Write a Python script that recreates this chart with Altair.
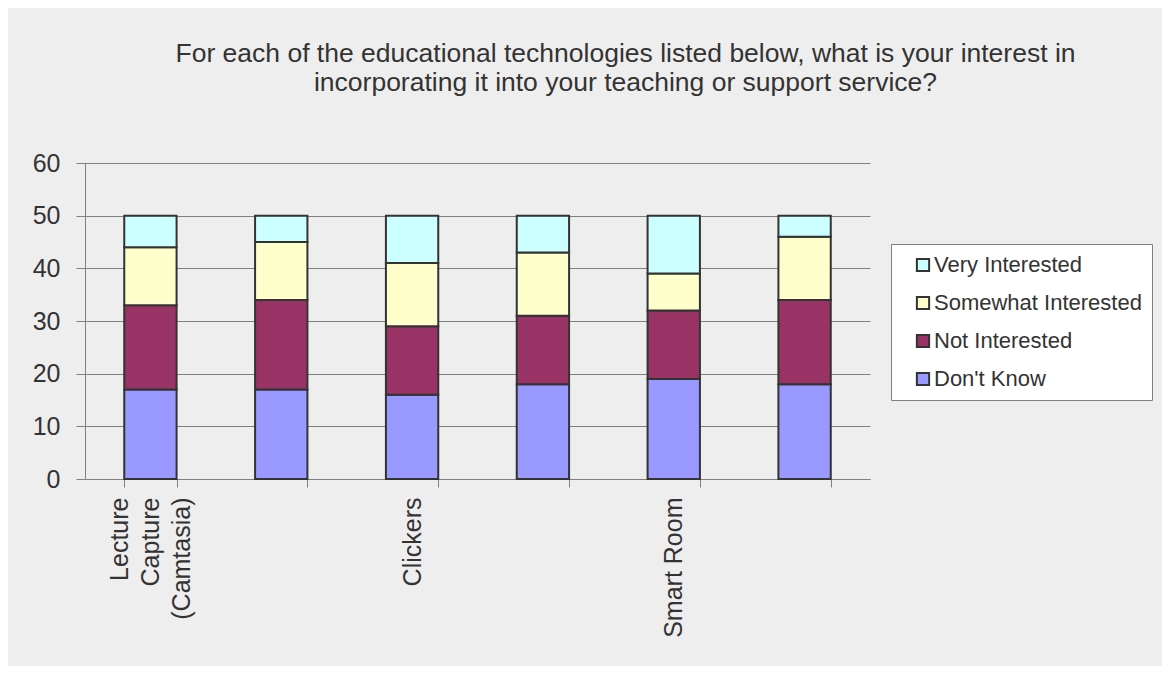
import altair as alt
import pandas as pd

categories = ["Lecture Capture (Camtasia)", "", "Clickers", " ", "Smart Room", "  "]
dont_know = [17, 17, 16, 18, 19, 18]
not_interested = [16, 17, 13, 13, 13, 16]
somewhat = [11, 11, 12, 12, 7, 12]
very = [6, 5, 9, 7, 11, 4]

series_names = ["Don't Know", "Not Interested", "Somewhat Interested", "Very Interested"]
series_vals = [dont_know, not_interested, somewhat, very]
legend_order = ["Very Interested", "Somewhat Interested", "Not Interested", "Don't Know"]
legend_colors = ["#CCFFFF", "#FFFFCC", "#993366", "#9999FF"]

rows = []
for si, (name, vals) in enumerate(zip(series_names, series_vals)):
    for c, v in zip(categories, vals):
        rows.append({"cat": c, "series": name, "value": v, "ord": si})
df = pd.DataFrame(rows)

FONT = "Liberation Sans"
TXT = "#333333"

bars = alt.Chart(df).mark_bar(stroke="#333333", strokeWidth=2).encode(
    x=alt.X("cat:N", sort=categories, title=None,
            scale=alt.Scale(domain=categories, paddingInner=0.6, paddingOuter=0.3),
            axis=alt.Axis(labelAngle=270, labelAlign="right", labelBaseline="middle",
                          labelExpr="indexof(datum.label, '(') > 0 ? split(datum.label, ' ') : datum.label",
                          labelOffset={"condition": {"test": "indexof(datum.label, '(') > 0", "value": -31}, "value": 0},
                          labelFontSize=25, labelLineHeight=31, labelColor=TXT, labelFont=FONT,
                          labelPadding=10, tickSize=8, tickColor="#808080", tickBand="extent",
                          domainColor="#808080", grid=False, labelOverlap=False)),
    y=alt.Y("value:Q", title=None, stack="zero",
            scale=alt.Scale(domain=[0, 60], nice=False),
            axis=alt.Axis(values=[0, 10, 20, 30, 40, 50, 60], labelFontSize=25, labelColor=TXT,
                          labelFont=FONT, labelPadding=16, tickSize=9, tickColor="#808080",
                          domainColor="#808080", gridColor="#808080", gridWidth=1)),
    color=alt.Color("series:N", scale=alt.Scale(domain=legend_order, range=legend_colors),
                    legend=alt.Legend(title=None, orient="none", legendX=806, legendY=81,
                                      fillColor="white", strokeColor="#808080", padding=10,
                                      symbolOffset=11, rowPadding=16, labelFontSize=22,
                                      labelFont=FONT, labelColor=TXT, symbolType="square",
                                      symbolSize=150, symbolStrokeColor="#333333",
                                      symbolStrokeWidth=2, labelOffset=0, labelLimit=400)),
    order=alt.Order("ord:Q", sort="ascending"),
)

chart = bars.properties(
    width=785, height=316,
    autosize=alt.AutoSizeParams(type="none"),
    padding={"left": 77, "top": 155, "right": 292, "bottom": 187},
    title=alt.TitleParams(
        text=["For each of the educational technologies listed below, what is your interest in",
              "incorporating it into your teaching or support service?"],
        fontSize=26.5, font=FONT, color=TXT, fontWeight="normal", anchor="middle",
        dx=148, offset=55, lineHeight=29),
).configure(background="#eeeeee").configure_view(stroke=None)

chart.save("out.html", embed_options={"renderer": "svg", "actions": False})
